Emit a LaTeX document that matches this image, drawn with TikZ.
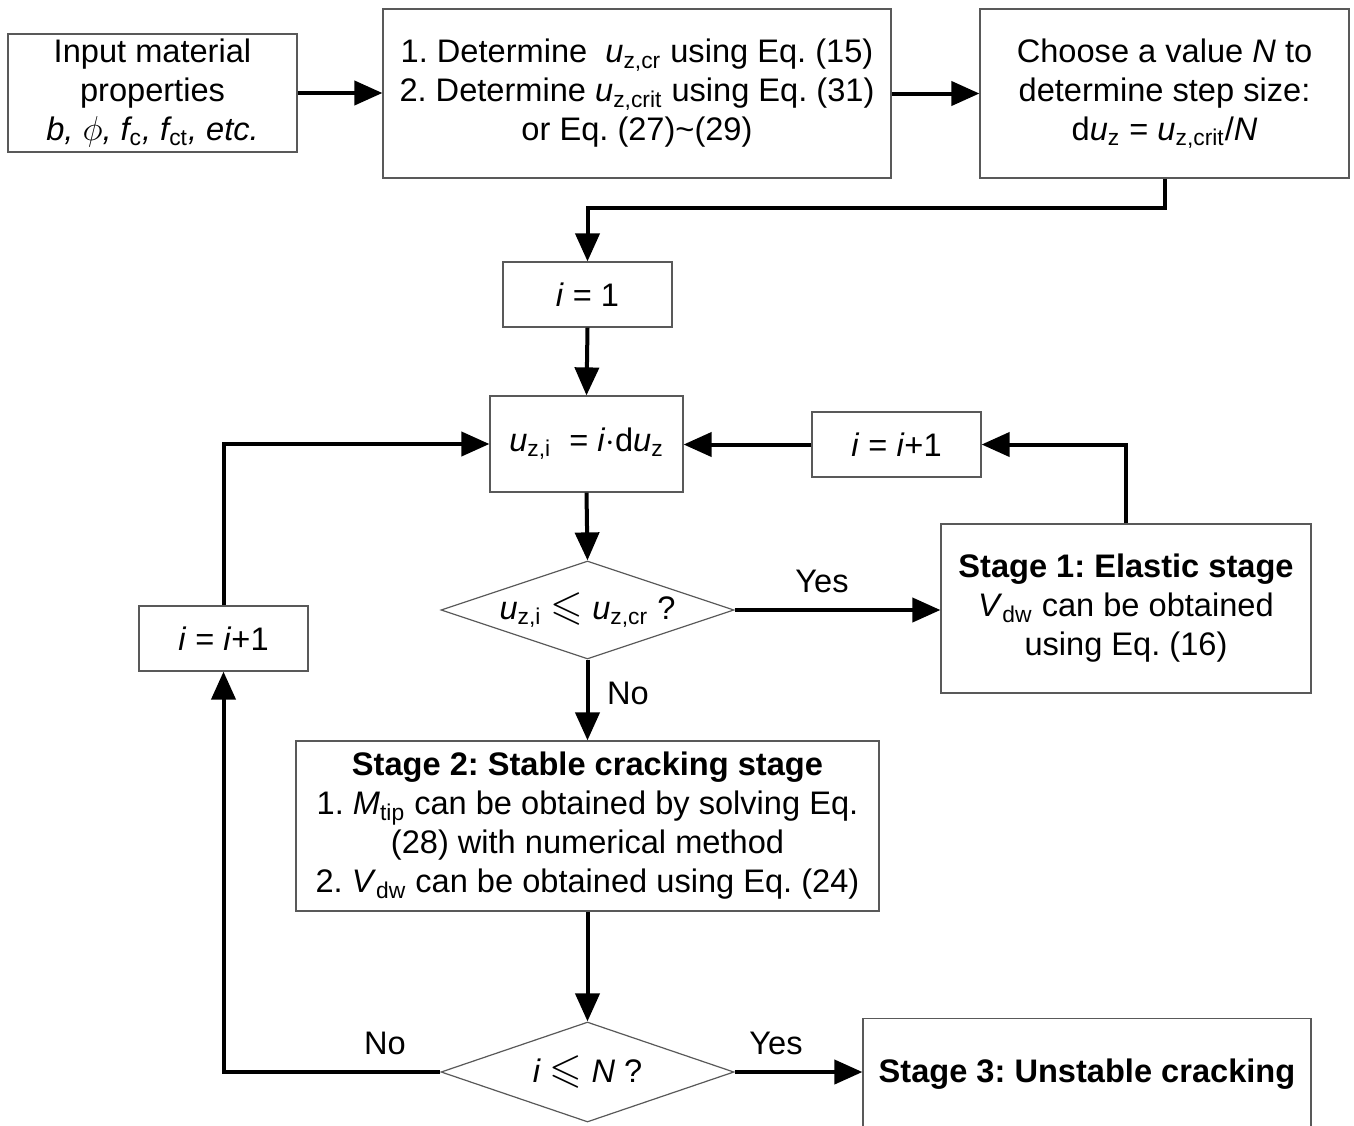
\documentclass[tikz,border=0pt]{standalone}
\usepackage{amssymb}
\usepackage{fontspec}
\setmainfont{Liberation Sans}
\usetikzlibrary{shapes.geometric,arrows.meta}
\frenchspacing
\newcommand\sbs[1]{\textsubscript{\textup{#1}}}
\newcommand\leqs{{\fontsize{21}{21}\selectfont$\leqslant$}}
\newcommand\phis{{\fontsize{19}{19}\selectfont$\phi$}}
\begin{document}
\begin{tikzpicture}[x=0.5pt,y=-0.5pt,
  every node/.style={font=\fontsize{16.3}{19.5}\selectfont\frenchspacing},
  box/.style={draw=black!65, line width=0.6pt, rectangle, inner sep=0pt, align=center},
  dia/.style={draw=black!65, line width=0.6pt, diamond, aspect=3, inner sep=0pt, align=center},
  arr/.style={line width=2pt, -{Triangle[length=14pt,width=12pt]}},
  lbl/.style={inner sep=0pt}]
\fill[white] (0,0) rectangle (1354,1125);
\useasboundingbox (0,0) rectangle (1354,1125);

\node[box, minimum width=144.5pt, minimum height=59pt] (in) at (152.5,93)
  {Input material\\properties\\\textit{b, \phis, f\sbs{c}, f\sbs{ct}, etc.}};
\node[box, minimum width=254pt, minimum height=84.5pt] (b2) at (637,93.5)
  {1. Determine\ \ \textit{u}\sbs{z,cr} using Eq. (15)\\2. Determine \textit{u}\sbs{z,crit} using Eq. (31)\\or Eq. (27)\textasciitilde(29)};
\node[box, minimum width=184.5pt, minimum height=84.5pt] (b3) at (1164.5,93.5)
  {Choose a value \textit{N} to\\determine step size:\\d\textit{u}\sbs{z} = \textit{u}\sbs{z,crit}/\textit{N}};
\node[box, minimum width=84.5pt, minimum height=32.5pt] (i1) at (587.5,294.5) {\textit{i} = 1};
\node[box, minimum width=96.5pt, minimum height=48pt] (uzi) at (586.5,444)
  {\textit{u}\sbs{z,i}\ \ = \textit{i}$\cdot$d\textit{u}\sbs{z}};
\node[box, minimum width=84.5pt, minimum height=32.5pt] (ir) at (896.5,444.5) {\textit{i} = \textit{i}+1};
\node[box, minimum width=185pt, minimum height=84.5pt] (s1) at (1126,608.5)
  {\textbf{Stage 1: Elastic stage}\\\textit{V}\sbs{dw} can be obtained\\using Eq. (16)};
\node[dia, minimum width=146.5pt, minimum height=49pt] (d1) at (587.5,610)
  {\textit{u}\sbs{z,i} \leqs{} \textit{u}\sbs{z,cr} ?};
\node[box, minimum width=291.5pt, minimum height=85pt] (s2) at (587.5,826)
  {\textbf{Stage 2: Stable cracking stage}\\1. \textit{M}\sbs{tip} can be obtained by solving Eq.\\(28) with numerical method\\2. \textit{V}\sbs{dw} can be obtained using Eq. (24)};
\node[dia, minimum width=146.5pt, minimum height=50pt] (d2) at (587.5,1072)
  {\textit{i} \leqs{} \textit{N} ?};
\node[box, minimum width=224pt, text height=32pt, text depth=29pt, anchor=north] (s3) at (1087,1018)
  {\textbf{Stage 3: Unstable cracking}};
\node[box, minimum width=84.5pt, minimum height=32.5pt] (il) at (223.5,638.5) {\textit{i} = \textit{i}+1};

\draw[arr] (in.east) -- (in.east -| b2.west);
\draw[arr] (b2.east) -- (b2.east -| b3.west);
\draw[arr] (b3.south) -- (b3.south |- 0,208) -| (i1.north);
\draw[arr] (i1.south) -- (uzi.north);
\draw[arr] (ir.west) -- (ir.west -| uzi.east);
\draw[arr] (s1.north) |- (ir.east);
\draw[arr] (uzi.south) -- (d1.north);
\draw[arr] (d1.east) -- (d1.east -| s1.west);
\draw[arr] (d1.south) -- (s2.north);
\draw[arr] (s2.south) -- (d2.north);
\draw[arr] (d2.east) -- (d2.east -| s3.west);
\draw[arr] (d2.west) -| (il.south);
\draw[arr] (il.north) |- (uzi.west);

\node[lbl] (y1) at (822,581) {Yes};
\node[lbl] (n1) at (628,693) {No};
\node[lbl] (n2) at (385,1043) {No};
\node[lbl] (y2) at (776,1043) {Yes};
\end{tikzpicture}
\end{document}
